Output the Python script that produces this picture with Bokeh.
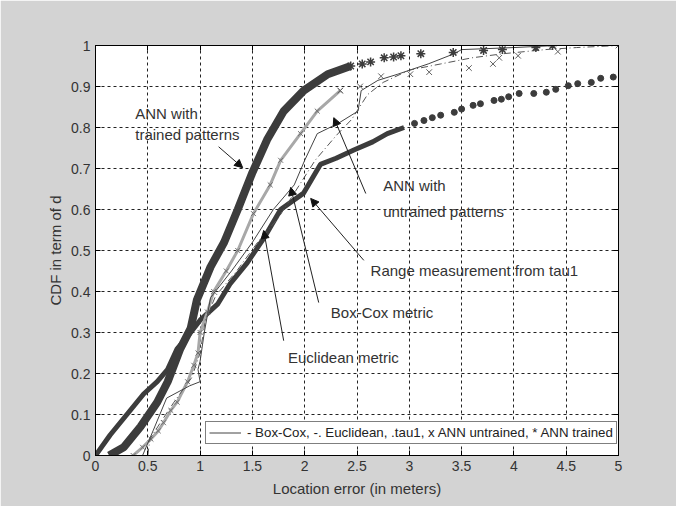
from bokeh.plotting import figure
from bokeh.models import (Range1d, FixedTicker, LinearAxis, Label, Arrow, NormalHead,
                          Legend, LegendItem)
from bokeh.embed import file_html
from bokeh.resources import INLINE

# ---------------- data ----------------
x_ticks = [0, 0.5, 1, 1.5, 2, 2.5, 3, 3.5, 4, 4.5, 5]
x_tick_labels = ["0", "0.5", "1", "1.5", "2", "2.5", "3", "3.5", "4", "4.5", "5"]
y_ticks = [0, 0.1, 0.2, 0.3, 0.4, 0.5, 0.6, 0.7, 0.8, 0.9, 1]
y_tick_labels = ["0", "0.1", "0.2", "0.3", "0.4", "0.5", "0.6", "0.7", "0.8", "0.9", "1"]

# ANN trained (*): dense part drawn as a band, sparse part as markers
ann_tr_x = [0.13, 0.27, 0.43, 0.59, 0.69, 0.81, 0.91, 0.97, 1.10, 1.23, 1.36, 1.50, 1.64, 1.80, 1.99, 2.22, 2.44]
ann_tr_y = [0.00, 0.02, 0.07, 0.13, 0.18, 0.26, 0.31, 0.38, 0.46, 0.52, 0.60, 0.69, 0.77, 0.84, 0.89, 0.93, 0.95]
ann_tr_px = [2.44, 2.55, 2.63, 2.76, 2.85, 2.92, 3.11, 3.42, 3.71, 3.89, 4.21, 4.37]
ann_tr_py = [0.950, 0.955, 0.960, 0.970, 0.972, 0.975, 0.980, 0.983, 0.988, 0.990, 0.995, 1.000]

# Range measurement from tau1 (.)
tau_x = [0.00, 0.14, 0.30, 0.46, 0.59, 0.69, 0.78, 0.88, 1.00, 1.17, 1.29, 1.45, 1.61, 1.77, 1.99, 2.15, 2.30, 2.47, 2.65, 2.79, 2.95]
tau_y = [0.00, 0.05, 0.10, 0.15, 0.18, 0.21, 0.26, 0.29, 0.33, 0.37, 0.42, 0.47, 0.53, 0.60, 0.64, 0.71, 0.725, 0.745, 0.765, 0.785, 0.80]
tau_px = [3.05, 3.14, 3.22, 3.30, 3.43, 3.50, 3.61, 3.68, 3.81, 3.88, 3.95, 4.05, 4.19, 4.31, 4.40, 4.52, 4.61, 4.74, 4.83, 4.95]
tau_py = [0.81, 0.817, 0.824, 0.830, 0.837, 0.845, 0.854, 0.858, 0.866, 0.869, 0.875, 0.883, 0.883, 0.886, 0.893, 0.902, 0.907, 0.910, 0.920, 0.923]

# ANN untrained (x)
ann_un_x = [0.36, 0.45, 0.53, 0.60, 0.65, 0.72, 0.78, 0.88, 0.94, 0.98, 1.00, 1.07, 1.13, 1.25, 1.36, 1.51, 1.67, 1.77, 1.96, 2.12, 2.34]
ann_un_y = [0.00, 0.02, 0.04, 0.06, 0.08, 0.11, 0.13, 0.18, 0.22, 0.25, 0.30, 0.35, 0.40, 0.45, 0.50, 0.59, 0.66, 0.72, 0.785, 0.84, 0.89]
ann_un_px = [2.34, 2.53, 2.73, 3.01, 3.19, 3.57, 3.80, 3.86, 4.04, 4.42, 5.00]
ann_un_py = [0.890, 0.900, 0.925, 0.930, 0.935, 0.945, 0.955, 0.970, 0.975, 0.985, 1.000]

# Box-Cox metric (solid)
boxcox_x = [0.45, 0.55, 0.68, 0.90, 1.00, 0.98, 1.00, 1.04, 1.10, 1.30, 1.50, 1.70, 1.90, 2.00, 2.12, 2.32, 2.51, 2.54, 2.70, 2.89, 3.18, 3.43, 3.50, 4.00, 4.40, 5.00]
boxcox_y = [0.00, 0.06, 0.14, 0.17, 0.18, 0.21, 0.23, 0.30, 0.385, 0.45, 0.52, 0.60, 0.66, 0.72, 0.785, 0.81, 0.84, 0.89, 0.915, 0.93, 0.955, 0.98, 0.99, 0.995, 1.00, 1.00]

# Euclidean metric (dash-dot)
eucl_x = [0.50, 0.52, 0.62, 0.75, 0.92, 1.00, 1.05, 1.15, 1.35, 1.55, 1.75, 1.95, 2.10, 2.30, 2.45, 2.60, 2.75, 3.00, 3.30, 3.60, 3.90, 4.30, 4.60, 5.00]
eucl_y = [0.00, 0.04, 0.08, 0.13, 0.19, 0.25, 0.33, 0.39, 0.45, 0.52, 0.58, 0.66, 0.72, 0.78, 0.82, 0.88, 0.91, 0.94, 0.955, 0.97, 0.98, 0.99, 0.995, 1.00]

# annotations: text, anchor
ann_texts = ["ANN with", "trained patterns", "ANN with", "untrained patterns",
             "Range measurement from tau1", "Box-Cox metric", "Euclidean metric"]
ann_tx = [0.38, 0.38, 2.75, 2.75, 2.63, 2.25, 1.84]
ann_ty = [0.834, 0.783, 0.659, 0.595, 0.451, 0.349, 0.239]
# arrows: tail -> head
arr_x0 = [1.177, 2.584, 2.565, 2.134, 1.799]
arr_y0 = [0.753, 0.639, 0.476, 0.373, 0.280]
arr_x1 = [1.407, 2.278, 2.057, 1.866, 1.608]
arr_y1 = [0.702, 0.824, 0.627, 0.654, 0.549]

title_text = "CDFs of location error in d"
xlabel = "Location error (in meters)"
ylabel = "CDF in term of d"
legend_text = "- Box-Cox, -. Euclidean, .tau1, x ANN untrained, * ANN trained"

# ---------------- figure ----------------
FONT = "Liberation Sans"
TXT = "#333333"
BG = "#d3d3d3"

p = figure(width=676, height=506, output_backend="svg", toolbar_location=None,
           x_range=Range1d(0, 5), y_range=Range1d(0, 1),
           min_border_left=95, min_border_right=58, min_border_top=45, min_border_bottom=51)
p.border_fill_color = BG
p.background_fill_color = "white"
p.outline_line_color = "black"
p.outline_line_width = 1

xt = FixedTicker(ticks=x_ticks)
yt = FixedTicker(ticks=y_ticks)

for ax, tk, labs in ((p.xaxis[0], xt, x_tick_labels), (p.yaxis[0], yt, y_tick_labels)):
    ax.ticker = tk
    ax.major_label_overrides = {t: l for t, l in zip(tk.ticks, labs)}
    ax.major_tick_in = 5
    ax.major_tick_out = 0
    ax.minor_tick_line_color = None
    ax.axis_line_color = "black"
    ax.major_tick_line_color = "black"
    ax.major_label_text_font = FONT
    ax.major_label_text_font_size = "14px"
    ax.major_label_text_color = TXT
    ax.axis_label_text_font = FONT
    ax.axis_label_text_font_size = "15px"
    ax.axis_label_text_font_style = "normal"
    ax.axis_label_text_color = TXT
    ax.major_label_standoff = 5

p.xaxis[0].axis_label = xlabel
p.yaxis[0].axis_label = ylabel
p.xaxis[0].axis_label_standoff = 6
p.yaxis[0].axis_label_standoff = 4

for loc, tk in (("above", xt), ("right", yt)):
    a = LinearAxis(ticker=tk, major_tick_in=5, major_tick_out=0, minor_tick_line_color=None,
                   major_label_text_color=None, axis_line_color="black",
                   major_tick_line_color="black", major_label_standoff=0)
    p.add_layout(a, loc)

p.xgrid.ticker = xt
p.ygrid.ticker = yt
for g in (p.xgrid[0], p.ygrid[0]):
    g.grid_line_color = "#222222"
    g.grid_line_dash = "3 3"
    g.grid_line_width = 1

# series
DARK = "#3c3c3c"
p.line(tau_x, tau_y, line_color=DARK, line_width=5)
p.scatter(tau_px, tau_py, marker="circle", size=6, fill_color=DARK, line_color=DARK)

p.line(ann_un_x, ann_un_y, line_color="#a8a8a8", line_width=3)
p.scatter(ann_un_x, ann_un_y, marker="x", size=7, line_color="#707070", line_width=1)
p.scatter(ann_un_px, ann_un_py, marker="x", size=8, line_color="#606060", line_width=1)

bc = p.line(boxcox_x, boxcox_y, line_color="#444444", line_width=1)
p.line(eucl_x, eucl_y, line_color="#555555", line_width=1, line_dash="7 3 1 3")

p.line(ann_tr_x, ann_tr_y, line_color=DARK, line_width=8)
p.scatter(ann_tr_px, ann_tr_py, marker="asterisk", size=9, line_color=DARK, line_width=1.5)

# annotations
for t, x, y in zip(ann_texts, ann_tx, ann_ty):
    p.add_layout(Label(x=x, y=y, text=t, text_font=FONT, text_font_size="15px",
                       text_color=TXT, text_baseline="middle", text_align="left"))
for x0, y0, x1, y1 in zip(arr_x0, arr_y0, arr_x1, arr_y1):
    p.add_layout(Arrow(x_start=x0, y_start=y0, x_end=x1, y_end=y1, line_color="#222222",
                       line_width=1, end=NormalHead(size=8, fill_color="#111111",
                                                    line_color="#111111")))

p.add_layout(Label(x=2.5, y=1.0, y_offset=16, text=title_text, text_font=FONT,
                   text_font_size="15px", text_color=TXT, text_align="center",
                   text_baseline="middle"))

leg = Legend(items=[LegendItem(label=legend_text, renderers=[bc])],
             location=(110, 11), orientation="vertical",
             label_text_font=FONT, label_text_font_size="13.3px", label_text_color="#222222",
             border_line_color="black", border_line_width=1, background_fill_color="white",
             background_fill_alpha=1, padding=3, margin=0, spacing=0,
             glyph_width=32, glyph_height=15, label_height=15, label_standoff=6)
p.add_layout(leg)

open("out.html", "w").write(file_html(p, INLINE))
